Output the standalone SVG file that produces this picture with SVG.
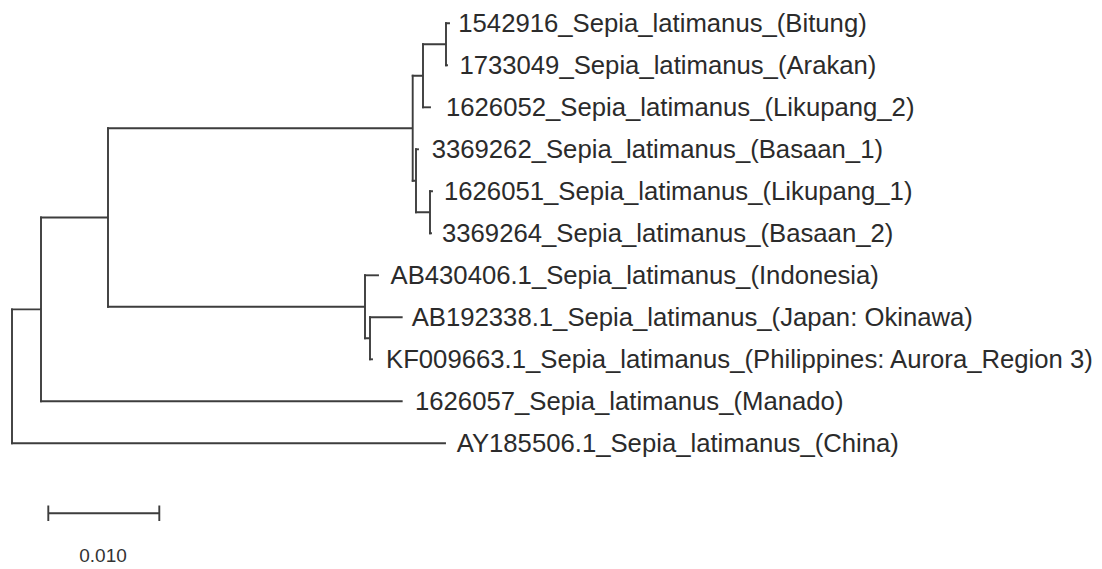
<svg xmlns="http://www.w3.org/2000/svg" width="1102" height="569" viewBox="0 0 1102 569">
<style>
.br{fill:none;stroke:#3d3d3d;stroke-width:1.9;stroke-linecap:square}
.lb{font-family:"Liberation Sans",Arial,sans-serif;font-size:25.7px;fill:#2b2b2b}
.sc{font-family:"Liberation Sans",Arial,sans-serif;font-size:19px;fill:#333}
</style>
<rect width="1102" height="569" fill="#fff"/>
<g id="connectors" class="br">
<path d="M12,309.4V443.3"/>
<path d="M12,309.4H41M41,217.5V401.3"/>
<path d="M12,443.3H445"/>
<path d="M41,401.3H401.7"/>
<path d="M41,217.5H108M108,128.3V306.8"/>
<path d="M108,128.3H412.7M412.7,75.8V180.8"/>
<path d="M412.7,75.8H423M423,44.3V107.3"/>
<path d="M423,44.3H446M446,23.3V65.3"/>
<path d="M446,23.3H449M446,65.3H447"/>
<path d="M423,107.3H430"/>
<path d="M412.7,180.8H416M416,149.3V212.3"/>
<path d="M416,149.3H418"/>
<path d="M416,212.3H430M430,191.3V233.3"/>
<path d="M430,191.3H432M430,233.3H431"/>
<path d="M108,306.8H365M365,275.3V338.3"/>
<path d="M365,275.3H378"/>
<path d="M365,338.3H370M370,317.3V359.3"/>
<path d="M370,317.3H401.7"/>
<path d="M370,359.3H372"/>
</g>
<g id="n-bitung"><text class="lb" x="458.3" y="32.3">1542916_Sepia_latimanus_(Bitung)</text></g>
<g id="n-arakan"><text class="lb" x="459.4" y="74.3">1733049_Sepia_latimanus_(Arakan)</text></g>
<g id="n-likupang2"><text class="lb" x="446" y="116.3">1626052_Sepia_latimanus_(Likupang_2)</text></g>
<g id="n-basaan1"><text class="lb" x="431.7" y="158.3">3369262_Sepia_latimanus_(Basaan_1)</text></g>
<g id="n-likupang1"><text class="lb" x="444" y="200.3">1626051_Sepia_latimanus_(Likupang_1)</text></g>
<g id="n-basaan2"><text class="lb" x="442" y="242.3">3369264_Sepia_latimanus_(Basaan_2)</text></g>
<g id="n-indonesia"><text class="lb" x="390.5" y="284.3">AB430406.1_Sepia_latimanus_(Indonesia)</text></g>
<g id="n-japan"><text class="lb" x="411.7" y="326.3">AB192338.1_Sepia_latimanus_(Japan: Okinawa)</text></g>
<g id="n-philippines"><text class="lb" x="386" y="368.3">KF009663.1_Sepia_latimanus_(Philippines: Aurora_Region 3)</text></g>
<g id="n-manado"><text class="lb" x="415" y="410.3">1626057_Sepia_latimanus_(Manado)</text></g>
<g id="n-china"><text class="lb" x="456.7" y="452.3">AY185506.1_Sepia_latimanus_(China)</text></g>
<g id="scale-bar">
<path class="br" d="M48.3,513.3H159.3M48.3,506.5V520M159.3,506.5V520"/>
<text class="sc" x="103" y="562" text-anchor="middle">0.010</text>
</g>
</svg>
